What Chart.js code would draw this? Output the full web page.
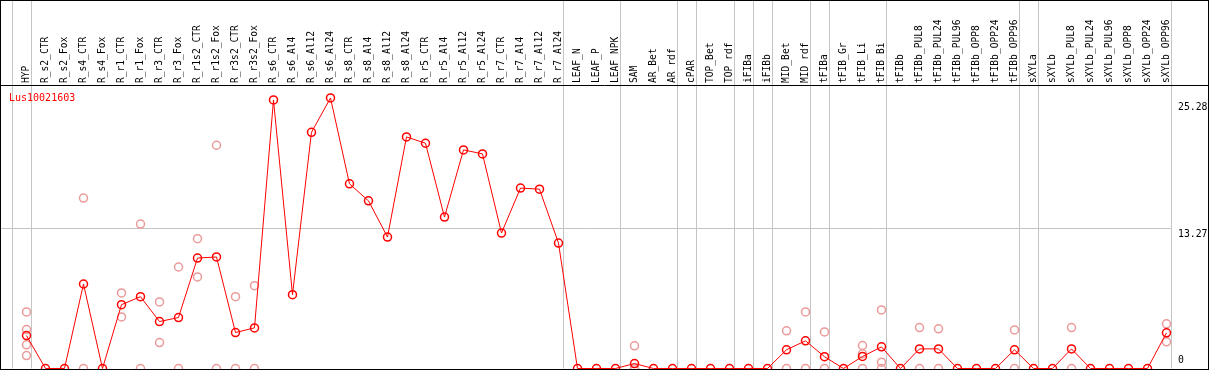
<!DOCTYPE html>
<html>
<head>
<meta charset="utf-8">
<title>Lus10021603</title>
<script src="https://cdn.jsdelivr.net/npm/chart.js@4.4.1/dist/chart.umd.min.js"></script>
<style>
  html, body { margin: 0; padding: 0; background: #fff; }
  #caixa { width: 1209px; height: 370px; }
</style>
</head>
<body>
<div id="caixa"><canvas id="grafico"></canvas></div>
<script>
// ========== DADOS ==========
const gene = 'Lus10021603';

const amostras = [
    'HYP', 'R_s2_CTR', 'R_s2_Fox', 'R_s4_CTR', 'R_s4_Fox', 'R_r1_CTR', 'R_r1_Fox', 'R_r3_CTR', 'R_r3_Fox',
    'R_r1s2_CTR', 'R_r1s2_Fox', 'R_r3s2_CTR', 'R_r3s2_Fox', 'R_s6_CTR', 'R_s6_Al4', 'R_s6_Al12', 'R_s6_Al24',
    'R_s8_CTR', 'R_s8_Al4', 'R_s8_Al12', 'R_s8_Al24', 'R_r5_CTR', 'R_r5_Al4', 'R_r5_Al12', 'R_r5_Al24',
    'R_r7_CTR', 'R_r7_Al4', 'R_r7_Al12', 'R_r7_Al24', 'LEAF_N', 'LEAF_P', 'LEAF_NPK', 'SAM', 'AR_Bet', 'AR_rdf',
    'cPAR', 'TOP_Bet', 'TOP_rdf', 'iFIBa', 'iFIBb', 'MID_Bet', 'MID_rdf', 'tFIBa', 'tFIB_Gr', 'tFIB_Li', 'tFIB_Bi',
    'tFIBb', 'tFIBb_PUL8', 'tFIBb_PUL24', 'tFIBb_PUL96', 'tFIBb_OPP8', 'tFIBb_OPP24', 'tFIBb_OPP96',
    'sXYLa', 'sXYLb', 'sXYLb_PUL8', 'sXYLb_PUL24', 'sXYLb_PUL96', 'sXYLb_OPP8', 'sXYLb_OPP24', 'sXYLb_OPP96'
];

// média por amostra (linha vermelha)
const medias = [
    3.12, 0, 0, 8.01, 0, 6.05, 6.81, 4.45, 4.83,
    10.47, 10.57, 3.41, 3.85, 25.45, 7.00, 22.39, 25.64,
    17.50, 15.89, 12.46, 21.95, 21.35, 14.35, 20.72, 20.34,
    12.84, 17.10, 17.00, 11.89, 0, 0, 0, 0.47, 0, 0,
    0, 0, 0, 0, 0, 1.77, 2.62, 1.12, 0, 1.14, 2.05,
    0, 1.86, 1.86, 0, 0, 0, 1.77,
    0, 0, 1.86, 0, 0, 0, 0, 3.38
];

// réplicas por amostra (círculos claros)
const replicas = [
    [5.36, 3.69, 2.24, 1.23], [], [], [16.15, 0], [], [7.16, 4.89], [13.69, 0], [6.31, 2.46], [9.62, 0],
    [12.30, 8.68], [21.16, 0], [6.81, 0], [7.85, 0], [], [], [], [],
    [], [], [], [], [], [], [], [],
    [], [], [], [], [], [], [], [2.15, 0, 0], [], [],
    [], [], [], [], [], [3.57, 0], [5.36, 0], [3.47, 0], [], [2.18, 1.39, 0], [5.55, 0.60, 0],
    [], [3.88, 0], [3.76, 0], [], [], [], [3.66, 0],
    [], [], [3.88, 0], [], [], [], [], [4.23, 2.53]
];

const marcasEixoY = [0, 13.27, 25.28];

// índice da última amostra de cada grupo (linha cinza à direita)
const fimDeGrupo = [-1, 0, 28, 31, 34, 35, 37, 38, 39, 41, 42, 45, 52, 53, 60];

const fonte = '"DejaVu Sans Mono", "Liberation Mono", monospace';

// ========== PLUGINS ==========
const separadores = {
    id: 'separadores',
    beforeDatasetsDraw(chart) {
        const ctx = chart.ctx;
        const x = chart.scales.x;
        const y = chart.scales.y;
        const area = chart.chartArea;
        ctx.save();
        ctx.strokeStyle = '#c4c4c4';
        ctx.lineWidth = 1;
        // linha horizontal do valor intermediário
        const py = Math.round(y.getPixelForValue(marcasEixoY[1])) + 0.5;
        ctx.beginPath();
        ctx.moveTo(0, py);
        ctx.lineTo(area.right, py);
        ctx.stroke();
        // separadores de grupo
        fimDeGrupo.forEach(i => {
            const px = Math.round(x.getPixelForValue(i) + 4.3) + 0.5;
            ctx.beginPath();
            ctx.moveTo(px, 0);
            ctx.lineTo(px, area.bottom);
            ctx.stroke();
        });
        ctx.restore();
    }
};

const moldura = {
    id: 'moldura',
    afterDraw(chart) {
        const ctx = chart.ctx;
        const area = chart.chartArea;
        const y = chart.scales.y;
        ctx.save();

        // contorno
        ctx.strokeStyle = '#000';
        ctx.lineWidth = 1;
        ctx.strokeRect(0.5, 0.5, chart.width - 1, Math.round(area.bottom));
        ctx.beginPath();
        ctx.moveTo(0, Math.round(area.top) + 0.5);
        ctx.lineTo(chart.width, Math.round(area.top) + 0.5);
        ctx.stroke();

        // nome do gene
        ctx.fillStyle = '#ff0000';
        ctx.font = '10px ' + fonte;
        ctx.textAlign = 'left';
        ctx.textBaseline = 'top';
        ctx.fillText(gene, area.left + 8, area.top + 8);

        // rótulos do eixo Y
        ctx.fillStyle = '#000';
        ctx.font = '9.8px ' + fonte;
        marcasEixoY.forEach(v => {
            const py = y.getPixelForValue(v);
            if (v === 0) {
                ctx.textBaseline = 'bottom';
                ctx.fillText(String(v), area.right + 7, py - 3);
            } else {
                ctx.textBaseline = 'top';
                ctx.fillText(v.toFixed(2), area.right + 7, py + 1);
            }
        });
        ctx.restore();
    }
};

// ========== GRÁFICO ==========
const pontosMedia = medias.map((v, i) => ({ x: i, y: v }));
const pontosReplica = [];
replicas.forEach((lista, i) => {
    lista.forEach(v => pontosReplica.push({ x: i, y: v }));
});

new Chart(document.getElementById('grafico'), {
    type: 'line',
    data: {
        datasets: [
            {
                label: 'média',
                data: pontosMedia,
                borderColor: '#ff0000',
                borderWidth: 1,
                pointRadius: 4,
                pointBorderWidth: 1.5,
                pointBorderColor: '#ff0000',
                pointBackgroundColor: 'rgba(0,0,0,0)',
                tension: 0,
                clip: false
            },
            {
                label: 'réplicas',
                data: pontosReplica,
                showLine: false,
                pointRadius: 4,
                pointBorderWidth: 1.5,
                pointBorderColor: '#eb9a9a',
                pointBackgroundColor: 'rgba(0,0,0,0)',
                clip: false
            }
        ]
    },
    options: {
        responsive: true,
        maintainAspectRatio: false,
        animation: false,
        layout: { autoPadding: false, padding: { left: 1, right: 0, top: 0, bottom: 1.5 } },
        plugins: {
            legend: { display: false },
            tooltip: { enabled: false },
            title: { display: false }
        },
        scales: {
            x: {
                type: 'linear',
                position: 'top',
                min: -1.342,
                max: 60.237,
                afterBuildTicks: scale => {
                    scale.ticks = amostras.map((_, i) => ({ value: i }));
                },
                afterFit: scale => {
                    scale.height = 85;
                    // sem folga lateral dos rótulos girados
                    scale.paddingLeft = 0;
                    scale.paddingRight = 0;
                },
                grid: { display: false, drawTicks: false },
                border: { display: false },
                ticks: {
                    autoSkip: false,
                    minRotation: 90,
                    maxRotation: 90,
                    padding: 2,
                    labelOffset: 11.5,
                    color: '#000',
                    font: { family: fonte, size: 9.6 },
                    callback: v => amostras[v]
                }
            },
            y: {
                type: 'linear',
                position: 'right',
                min: 0,
                max: 26.87,
                afterBuildTicks: scale => {
                    scale.ticks = marcasEixoY.map(v => ({ value: v }));
                },
                afterFit: scale => {
                    scale.width = 38;
                    scale.paddingTop = 0;
                    scale.paddingBottom = 0;
                },
                grid: { display: false, drawTicks: false },
                border: { display: false },
                ticks: { display: false }
            }
        }
    },
    plugins: [separadores, moldura]
});
</script>
</body>
</html>
